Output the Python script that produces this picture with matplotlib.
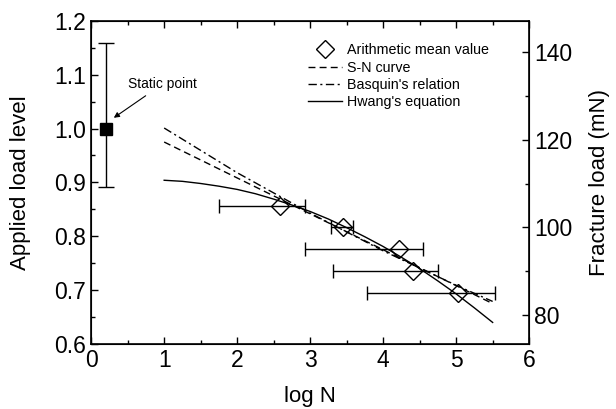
import matplotlib
matplotlib.use("Agg")
import matplotlib.pyplot as plt
from matplotlib.ticker import MultipleLocator

plt.rcParams['font.family'] = ['Liberation Sans', 'DejaVu Sans']

# mean values with horizontal scatter (log N)
mean_logn = [2.59, 3.45, 4.22, 4.41, 5.03]
mean_load = [0.856, 0.817, 0.776, 0.735, 0.694]
logn_low = [1.75, 3.29, 2.93, 3.31, 3.78]
logn_high = [2.93, 3.59, 4.55, 4.75, 5.53]

# static point
static_x = [0.2]
static_y = [1.0]
static_low = [0.891]
static_high = [1.159]

# fitted curves
sn_x = [1.0, 5.5]
sn_y = [0.975, 0.675]
basq_x = [1.0, 2.0, 3.0, 4.0, 5.0, 5.5]
basq_y = [1.001, 0.918, 0.843, 0.773, 0.709, 0.679]
hwang_x = [1.0, 1.25, 1.5, 1.75, 2.0, 2.25, 2.5, 2.75, 3.0, 3.25,
           3.5, 3.75, 4.0, 4.25, 4.5, 4.75, 5.0, 5.25, 5.5]
hwang_y = [0.904, 0.902, 0.898, 0.893, 0.887, 0.879, 0.869, 0.858, 0.846, 0.832,
           0.816, 0.799, 0.781, 0.761, 0.740, 0.717, 0.693, 0.667, 0.640]

static_load_mN = 122.5

fig = plt.figure(figsize=(6.16, 4.09), dpi=100)
ax = fig.add_axes([0.148, 0.159, 0.711, 0.790])

xerr = [[m - lo for m, lo in zip(mean_logn, logn_low)],
        [hi - m for m, hi in zip(mean_logn, logn_high)]]
ax.errorbar(mean_logn, mean_load, xerr=xerr, fmt='none', ecolor='black',
            elinewidth=1.0, capsize=5, capthick=1.0)
ax.plot(mean_logn, mean_load, 'D', ms=9, mfc='none', mec='black', mew=1.0,
        label='Arithmetic mean value')
ax.plot(sn_x, sn_y, color='black', lw=1.0, ls=(0, (5, 3)), label='S-N curve')
ax.plot(basq_x, basq_y, color='black', lw=1.0, ls=(0, (6, 2.5, 1.5, 2.5)),
        label="Basquin's relation")
ax.plot(hwang_x, hwang_y, color='black', lw=1.0, label="Hwang's equation")

yerr = [[s - lo for s, lo in zip(static_y, static_low)],
        [hi - s for s, hi in zip(static_y, static_high)]]
ax.errorbar(static_x, static_y, yerr=yerr, fmt='s', ms=8, color='black',
            elinewidth=1.0, capsize=6, capthick=1.0)
ax.annotate('Static point', xy=(0.31, 1.02), xytext=(0.5, 1.082),
            fontsize=10, ha='left', va='center',
            arrowprops=dict(arrowstyle='-|>', color='black', lw=0.8,
                            mutation_scale=8, shrinkA=2, shrinkB=0))

ax.set_xlim(0, 6)
ax.set_ylim(0.6, 1.2)
ax.xaxis.set_major_locator(MultipleLocator(1))
ax.xaxis.set_minor_locator(MultipleLocator(0.5))
ax.yaxis.set_major_locator(MultipleLocator(0.1))
ax.yaxis.set_minor_locator(MultipleLocator(0.05))
ax.tick_params(which='both', direction='in', top=True, right=False,
               labelsize=16.5, width=1.0)
ax.tick_params(which='major', length=5)
ax.tick_params(which='minor', length=3)
ax.set_xlabel('log N', fontsize=16, labelpad=10)
ax.set_ylabel('Applied load level', fontsize=16, labelpad=17)
for s in ax.spines.values():
    s.set_linewidth(1.2)

ax2 = ax.twinx()
ax2.set_ylim(0.6 * static_load_mN, 1.2 * static_load_mN)
ax2.yaxis.set_major_locator(MultipleLocator(20))
ax2.yaxis.set_minor_locator(MultipleLocator(10))
ax2.tick_params(which='both', direction='in', labelsize=16.5, width=1.0)
ax2.tick_params(which='major', length=5)
ax2.tick_params(which='minor', length=3)
ax2.set_ylabel('Fracture load (mN)', fontsize=16, labelpad=12)

ax.legend(loc='upper left', bbox_to_anchor=(0.495, 0.93), frameon=False,
          fontsize=10.3, handlelength=2.4, handletextpad=0.3,
          labelspacing=0.22, borderpad=0, borderaxespad=0)

fig.savefig('out.png', dpi=100)
